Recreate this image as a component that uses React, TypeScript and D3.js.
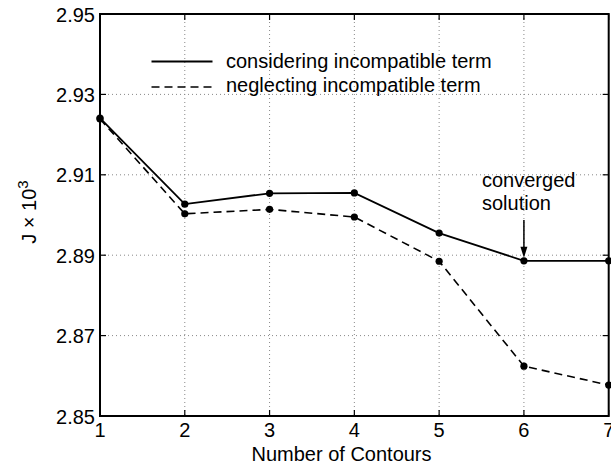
import React, { useEffect, useRef } from "react";
import * as d3 from "d3";

const contours = [1, 2, 3, 4, 5, 6, 7];
const considering = [2.9241, 2.9027, 2.9054, 2.9055, 2.8955, 2.8886, 2.8886];
const neglecting = [2.9239, 2.9003, 2.9014, 2.8995, 2.8885, 2.8624, 2.8577];
const xTicks = [1, 2, 3, 4, 5, 6, 7];
const yTicks = [2.85, 2.87, 2.89, 2.91, 2.93, 2.95];
const legendLabels = ["considering incompatible term", "neglecting incompatible term"];

export default function App() {
  const ref = useRef<SVGSVGElement | null>(null);
  useEffect(() => {
    const svg = d3.select(ref.current);
    svg.selectAll("*").remove();
    const W = 611, H = 466;
    const L = 100, R = 608.7, T = 14, B = 416;
    const font = "'Liberation Sans', Arial, Helvetica, sans-serif";
    const fs = 20;
    const x = d3.scaleLinear().domain([1, 7]).range([L, R]);
    const y = d3.scaleLinear().domain([2.85, 2.95]).range([B, T]);

    svg.append("rect").attr("width", W).attr("height", H).attr("fill", "#fff");

    // grid
    const g = svg.append("g");
    xTicks.slice(1, -1).forEach((t) => {
      g.append("line").attr("x1", x(t)).attr("x2", x(t)).attr("y1", T).attr("y2", B)
        .attr("stroke", "#888").attr("stroke-width", 1).attr("stroke-dasharray", "1,3");
    });
    yTicks.slice(1, -1).forEach((t) => {
      g.append("line").attr("x1", L).attr("x2", R).attr("y1", y(t)).attr("y2", y(t))
        .attr("stroke", "#888").attr("stroke-width", 1).attr("stroke-dasharray", "1,3");
    });

    // ticks (inward, mirrored)
    const tl = 6;
    xTicks.forEach((t) => {
      g.append("line").attr("x1", x(t)).attr("x2", x(t)).attr("y1", B).attr("y2", B - tl).attr("stroke", "#000").attr("stroke-width", 1.2);
      g.append("line").attr("x1", x(t)).attr("x2", x(t)).attr("y1", T).attr("y2", T + tl).attr("stroke", "#000").attr("stroke-width", 1.2);
      svg.append("text").attr("x", x(t)).attr("y", B + 21).attr("text-anchor", "middle")
        .attr("font-family", font).attr("font-size", fs).text(String(t));
    });
    yTicks.forEach((t) => {
      g.append("line").attr("x1", L).attr("x2", L + tl).attr("y1", y(t)).attr("y2", y(t)).attr("stroke", "#000").attr("stroke-width", 1.2);
      g.append("line").attr("x1", R).attr("x2", R - tl).attr("y1", y(t)).attr("y2", y(t)).attr("stroke", "#000").attr("stroke-width", 1.2);
      svg.append("text").attr("x", L - 5).attr("y", y(t) + 7.5).attr("text-anchor", "end")
        .attr("font-family", font).attr("font-size", fs).text(t.toFixed(2));
    });

    // box
    svg.append("rect").attr("x", L).attr("y", T).attr("width", R - L).attr("height", B - T)
      .attr("fill", "none").attr("stroke", "#000").attr("stroke-width", 2);

    const line = d3.line<number>().x((_, i) => x(contours[i])).y((d) => y(d));
    svg.append("path").attr("d", line(neglecting)).attr("fill", "none").attr("stroke", "#000")
      .attr("stroke-width", 1.6).attr("stroke-dasharray", "8,5");
    svg.append("path").attr("d", line(considering)).attr("fill", "none").attr("stroke", "#000")
      .attr("stroke-width", 1.8);
    [considering, neglecting].forEach((s) => {
      svg.selectAll(null).data(s).enter().append("circle")
        .attr("cx", (_, i) => x(contours[i])).attr("cy", (d) => y(d)).attr("r", 3.6).attr("fill", "#000");
    });

    // legend
    svg.append("line").attr("x1", 151.5).attr("x2", 212.5).attr("y1", 61.5).attr("y2", 61.5)
      .attr("stroke", "#000").attr("stroke-width", 1.8);
    svg.append("line").attr("x1", 151.5).attr("x2", 212.5).attr("y1", 87).attr("y2", 87)
      .attr("stroke", "#000").attr("stroke-width", 1.6).attr("stroke-dasharray", "8,5");
    svg.append("text").attr("x", 226).attr("y", 67.5).attr("font-family", font).attr("font-size", fs).text(legendLabels[0]);
    svg.append("text").attr("x", 226).attr("y", 92).attr("font-family", font).attr("font-size", fs).text(legendLabels[1]);

    // annotation
    svg.append("text").attr("x", 482).attr("y", 187).attr("font-family", font).attr("font-size", fs).text("converged");
    svg.append("text").attr("x", 482).attr("y", 210).attr("font-family", font).attr("font-size", fs).text("solution");
    const ax = x(6), ay = y(considering[5]) - 3;
    svg.append("line").attr("x1", ax).attr("x2", ax).attr("y1", 220).attr("y2", ay - 8).attr("stroke", "#000").attr("stroke-width", 1.5);
    svg.append("path").attr("d", `M${ax - 3.5},${ay - 11} L${ax + 3.5},${ay - 11} L${ax},${ay} Z`).attr("fill", "#000");

    // axis labels
    svg.append("text").attr("x", 341.5).attr("y", 461).attr("text-anchor", "middle")
      .attr("font-family", font).attr("font-size", fs).text("Number of Contours");
    const yl = svg.append("text").attr("transform", `translate(36,${212}) rotate(-90)`).attr("text-anchor", "middle")
      .attr("font-family", font).attr("font-size", fs);
    yl.append("tspan").text("J × 10");
    yl.append("tspan").attr("dy", -8).attr("font-size", 15).text("3");
  }, []);
  return <svg ref={ref} width={611} height={466} style={{ position: "absolute", left: 0, top: 0 }} />;
}
